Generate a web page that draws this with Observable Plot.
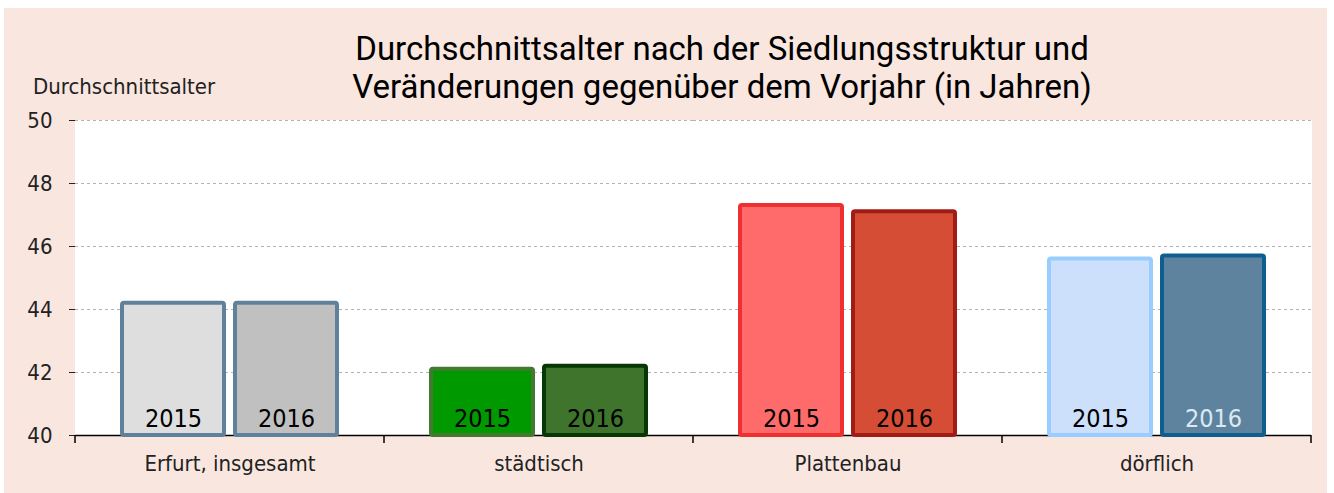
<!DOCTYPE html>
<html><head><meta charset="utf-8">
<script src="https://cdn.jsdelivr.net/npm/d3@7"></script>
<script src="https://cdn.jsdelivr.net/npm/@observablehq/plot@0.6"></script>
<style>
body{margin:0;background:#fff;width:1334px;height:493px;position:relative;overflow:hidden;}
#panel{position:absolute;left:4px;top:8px;width:1323px;height:485px;background:#f9e6df;}
.title{position:absolute;left:222px;width:1000px;height:38px;text-align:center;font-family:Roboto,sans-serif;font-size:33px;line-height:38px;color:#000;white-space:nowrap;}
#t1{top:30px;}
#t2{top:68px;}
#ylabel{position:absolute;left:33px;top:74px;font-family:"Liberation Sans Narrow","DejaVu Sans Condensed",sans-serif;font-size:22px;color:#222;}
#chart{position:absolute;left:0;top:0;}
</style>
</head><body>
<div id="panel"></div>
<div class="title" id="t1">Durchschnittsalter nach der Siedlungsstruktur und</div>
<div class="title" id="t2">Veränderungen gegenüber dem Vorjahr (in Jahren)</div>
<div id="ylabel">Durchschnittsalter</div>
<div id="chart"></div>
<script>
const categories = ["Erfurt, insgesamt", "städtisch", "Plattenbau", "dörflich"];
const years = ["2015", "2016"];
const values2015 = [44.2, 42.1, 47.3, 45.6];
const values2016 = [44.2, 42.2, 47.1, 45.7];
const yTicks = [40, 42, 44, 46, 48, 50];

// styles (separate from data)
const fill2015 = ["#dedede", "#009900", "#ff6b6b", "#cce0fb"];
const stroke2015 = ["#5f819c", "#437a30", "#ee3030", "#99ccff"];
const fill2016 = ["#c0c0c0", "#3e742b", "#d44d34", "#5e839e"];
const stroke2016 = ["#5f819c", "#053805", "#a01c14", "#0e5f8f"];
const label2016 = ["#000", "#000", "#000", "#dce8f2"];

const rows = [];
categories.forEach((c, i) => {
  rows.push({cat: c, year: years[0], value: values2015[i], fill: fill2015[i], stroke: stroke2015[i], lab: "#000"});
  rows.push({cat: c, year: years[1], value: values2016[i], fill: fill2016[i], stroke: stroke2016[i], lab: label2016[i]});
});

const W = 1334, H = 493;
const plot = Plot.plot({
  width: W, height: H,
  marginLeft: 73, marginRight: 22, marginTop: 120, marginBottom: 58,
  style: {background: "transparent", fontFamily: "'Liberation Sans Narrow','DejaVu Sans Condensed',sans-serif", fontSize: "22px", color: "#222"},
  fx: {domain: categories, padding: 0, label: null, axis: "bottom", tickSize: 0, tickPadding: 20},
  x: {domain: years, paddingInner: 0.096, paddingOuter: 0.4065, axis: null},
  y: {domain: [40, 50], ticks: yTicks, tickSize: 6, tickPadding: 17, label: null, line: true},
  marks: [
    Plot.frame({fill: "white", stroke: "white", strokeWidth: 1}),
    Plot.gridY(yTicks.filter(d => d > 40), {stroke: "#b3b3b3", strokeOpacity: 1, strokeDasharray: "3,3"}),
    Plot.ruleY([40], {stroke: "#000", strokeWidth: 1.5}),
    Plot.rectY(rows, {fx: "cat", x: "year", y1: 40, y2: "value", fill: "fill", stroke: "stroke", strokeWidth: 4, rx: 2}),
    Plot.text(rows, {fx: "cat", x: "year", y: 40, text: "year", fill: "lab", lineAnchor: "bottom", dy: -9, fontSize: 25})
  ]
});
document.getElementById("chart").appendChild(plot);

// category boundary ticks on the bottom axis, from the library's fx/y scales
const fx = plot.scale("fx");
const ys = plot.scale("y");
const y0 = ys.apply(40);
const bounds = categories.map(c => fx.apply(c)).concat([fx.apply(categories[categories.length - 1]) + fx.bandwidth]);
d3.select(plot).append("g").selectAll("line").data(bounds).join("line")
  .attr("x1", d => d).attr("x2", d => d)
  .attr("y1", y0).attr("y2", y0 + 8)
  .attr("stroke", "#000").attr("stroke-width", 1.5);
</script>
</body></html>
